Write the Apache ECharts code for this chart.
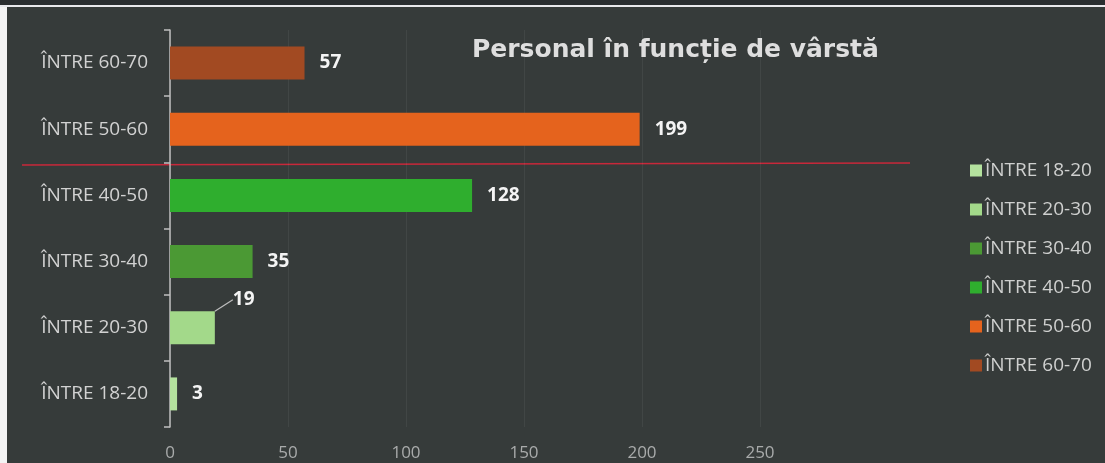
<!DOCTYPE html>
<html><head><meta charset="utf-8">
<style>html,body{margin:0;padding:0;background:#fff;}#c{width:1105px;height:463px;}</style>
<script src="https://cdn.jsdelivr.net/npm/echarts@6/dist/echarts.min.js"></script>
</head><body><div id="c"></div>
<script>
const categories = ['ÎNTRE 18-20','ÎNTRE 20-30','ÎNTRE 30-40','ÎNTRE 40-50','ÎNTRE 50-60','ÎNTRE 60-70'];
const values = [3, 19, 35, 128, 199, 57];
const colors = ['#b4e29e','#a3d98a','#4b9934','#2fae2e','#e5631d','#a24a22'];
const xTicks = [0, 50, 100, 150, 200, 250];

const chart = echarts.init(document.getElementById('c'));
const series = categories.map((name, i) => ({
  name: name,
  type: 'bar',
  stack: 'all',
  barWidth: 33,
  itemStyle: { color: colors[i] },
  data: categories.map((c, j) => j === i ? values[i] : '-'),
  label: {
    show: true, position: 'right', distance: 15,
    color: '#f4f4f4', fontWeight: 'bold', fontSize: 19, fontFamily: 'Open Sans'
  },
  labelLayout: i === 1 ? { dx: 3, dy: -28 } : undefined,
  labelLine: i === 1 ? { show: true, lineStyle: { color: '#bdbdbd', width: 1.2 } } : undefined
}));

chart.setOption({
  backgroundColor: '#363b3a',
  animation: false,
  title: {
    text: 'Personal în funcție de vârstă',
    left: 467, top: 33,
    textStyle: { color: '#dedede', fontSize: 25, fontWeight: 'bold', fontFamily: 'DejaVu Sans' }
  },
  legend: {
    orient: 'vertical', left: 965, top: 156, itemGap: 20,
    itemWidth: 12, itemHeight: 12, icon: 'rect',
    textStyle: { color: '#cfd0cf', fontSize: 19, fontFamily: 'Open Sans', padding: [0, 0, 0, -2] },
    data: categories
  },
  grid: { left: 170, right: 345, top: 30, bottom: 36, containLabel: false },
  xAxis: {
    type: 'value', min: 0, max: 250, interval: 50,
    axisLine: { show: false }, axisTick: { show: false },
    splitLine: { show: true, lineStyle: { color: 'rgba(255,255,255,0.06)' } },
    axisLabel: { color: '#a9abab', fontSize: 17, fontFamily: 'Open Sans', margin: 18,
      formatter: v => xTicks.includes(v) ? String(v) : '' }
  },
  yAxis: {
    type: 'category', data: categories,
    axisLine: { show: true, lineStyle: { color: '#c0c0c0', width: 1.5 } },
    axisTick: { show: true, length: 6, lineStyle: { color: '#c0c0c0', width: 1.5 } },
    axisLabel: { color: '#d2d2d2', fontSize: 19, fontFamily: 'Open Sans', margin: 22 }
  },
  series: series,
  graphic: [
    { type: 'rect', left: 0, top: 0, shape: { width: 7, height: 463 }, style: { fill: '#f4f4f4' } },
    { type: 'rect', left: 0, top: 0, shape: { width: 1105, height: 5 }, style: { fill: '#2a2e30' } },
    { type: 'rect', left: 0, top: 5, shape: { width: 1105, height: 2 }, style: { fill: '#e8e8ec' } },
    { type: 'line', shape: { x1: 22, y1: 165, x2: 910, y2: 163 }, style: { stroke: '#c8283a', lineWidth: 1.5 } }
  ]
});
</script></body></html>
